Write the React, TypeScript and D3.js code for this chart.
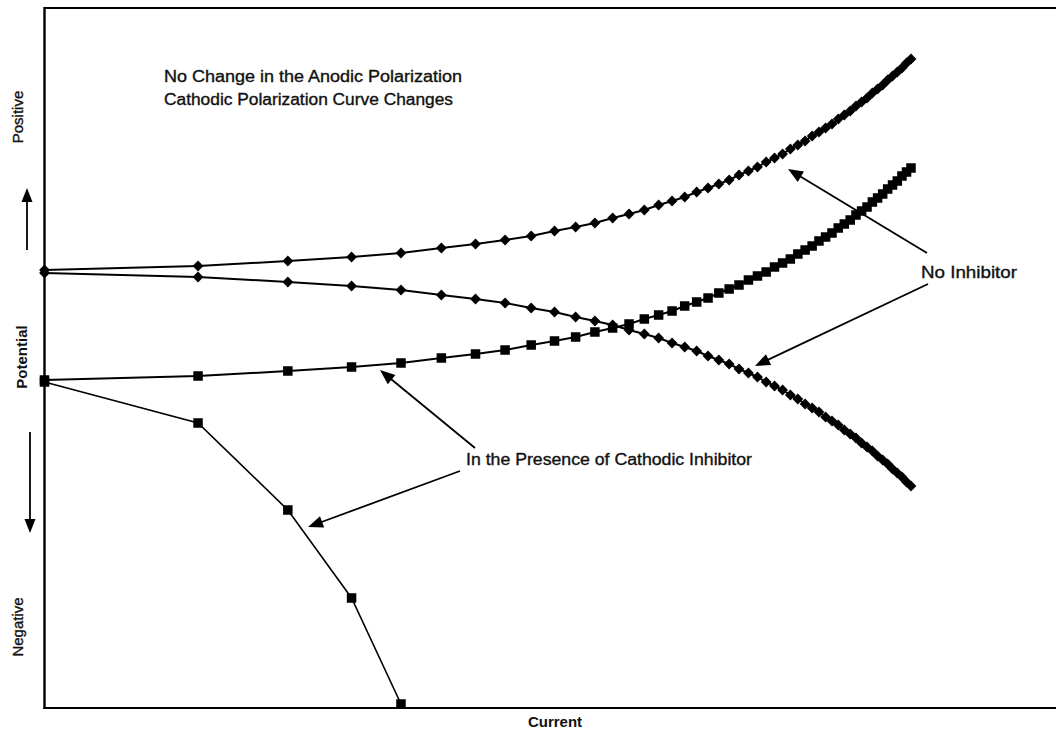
import React from "react";
import * as d3 from "d3";

// Current index (log-scaled axis)
const currentSteps: number[] = [
  1, 2, 3, 4, 5, 6, 7, 8, 9, 10, 11, 12, 13, 14, 15, 16, 17, 18, 19, 20, 21, 22, 23, 24, 25,
  26, 27, 28, 29, 30, 31, 32, 33, 34, 35, 36, 37, 38, 39, 40, 41, 42, 43, 44, 45, 46, 47, 48, 49, 50,
];

// No inhibitor – anodic branch (diamonds)
const anodicNoInhibitor: number[] = [
  88, 92, 97, 101, 105, 110, 114, 118, 122, 127, 131, 135, 140, 144, 148, 153, 157, 161, 166, 170,
  174, 178, 183, 187, 191, 196, 200, 204, 209, 213, 217, 222, 226, 230, 234, 239, 243, 247, 252, 256,
  260, 265, 269, 273, 278, 282, 286, 290, 295, 299,
];

// No inhibitor – cathodic branch (diamonds)
const cathodicNoInhibitor: number[] = [
  85, 81, 76, 72, 68, 63, 59, 55, 50, 46, 41, 37, 33, 28, 24, 20, 15, 11, 7, 2,
  -2, -6, -11, -15, -19, -24, -28, -32, -37, -41, -46, -50, -54, -59, -63, -67, -72, -76, -80, -85,
  -89, -93, -98, -102, -106, -111, -115, -119, -124, -128,
];

// With cathodic inhibitor – anodic branch (squares)
const anodicWithInhibitor: number[] = [
  -22, -18, -13, -9, -5, 0, 4, 8, 13, 17, 21, 26, 30, 34, 39, 43, 47, 52, 56, 60,
  65, 69, 73, 78, 82, 86, 91, 95, 99, 104, 108, 112, 117, 121, 125, 130, 134, 138, 143, 147,
  151, 156, 160, 164, 169, 173, 177, 182, 186, 190,
];

// With cathodic inhibitor – cathodic branch (squares)
const cathodicWithInhibitorSteps: number[] = [1, 2, 3, 4, 5];
const cathodicWithInhibitor: number[] = [-24, -65, -152, -240, -346];

const titleLines: string[] = [
  "No Change in the Anodic Polarization",
  "Cathodic Polarization Curve Changes",
];
const titleWidths: number[] = [298, 289];

const W = 1056;
const H = 732;
const left = 44.5;
const top = 8;
const bottom = 708;

const x = d3.scaleLog().domain([1, 50]).range([left, 911]);
const y = d3.scaleLinear().domain([-350, 350]).range([bottom, top]);

type Pt = [number, number];
const zip = (xs: number[], ys: number[]): Pt[] => xs.map((v, i) => [v, ys[i]]);

const line = d3
  .line<Pt>()
  .x((d) => x(d[0]))
  .y((d) => y(d[1]));

const FONT = "Liberation Sans, Arial, sans-serif";

function Arrow({ x1, y1, x2, y2, head = 15, half = 6 }: { x1: number; y1: number; x2: number; y2: number; head?: number; half?: number }) {
  const dx = x2 - x1;
  const dy = y2 - y1;
  const len = Math.hypot(dx, dy);
  const ux = dx / len;
  const uy = dy / len;
  const bx = x2 - ux * head;
  const by = y2 - uy * head;
  const px = -uy;
  const py = ux;
  const pts = `${x2},${y2} ${bx + px * half},${by + py * half} ${bx - px * half},${by - py * half}`;
  return (
    <g>
      <line x1={x1} y1={y1} x2={bx + ux * 2} y2={by + uy * 2} stroke="#000" strokeWidth={1.8} />
      <polygon points={pts} fill="#000" />
    </g>
  );
}

function Diamonds({ data }: { data: Pt[] }) {
  const s = 5.4;
  return (
    <g>
      {data.map((d, i) => {
        const cx = x(d[0]);
        const cy = y(d[1]);
        return (
          <polygon
            key={i}
            points={`${cx},${cy - s} ${cx + s},${cy} ${cx},${cy + s} ${cx - s},${cy}`}
            fill="#000"
          />
        );
      })}
    </g>
  );
}

function Squares({ data, size = 9 }: { data: Pt[]; size?: number }) {
  return (
    <g>
      {data.map((d, i) => (
        <rect key={i} x={x(d[0]) - size / 2} y={y(d[1]) - size / 2} width={size} height={size} fill="#000" />
      ))}
    </g>
  );
}

const textStyle = { fill: "#111", stroke: "#111", strokeWidth: 0.35 };

export default function App() {
  const sAnNo = zip(currentSteps, anodicNoInhibitor);
  const sCaNo = zip(currentSteps, cathodicNoInhibitor);
  const sAnIn = zip(currentSteps, anodicWithInhibitor);
  const sCaIn = zip(cathodicWithInhibitorSteps, cathodicWithInhibitor);

  return (
    <svg
      width={W}
      height={H}
      style={{ position: "fixed", left: 0, top: 0, background: "#fff" }}
      fontFamily={FONT}
    >
      <rect x={0} y={0} width={W} height={H} fill="#fff" />
      {/* frame */}
      <line x1={left} y1={top} x2={W} y2={top} stroke="#000" strokeWidth={2} />
      <line x1={left} y1={top - 1} x2={left} y2={bottom + 1} stroke="#000" strokeWidth={2.4} />
      <line x1={left - 1} y1={bottom} x2={W} y2={bottom} stroke="#000" strokeWidth={2} />

      {/* curves */}
      <path d={line(sAnNo) || ""} fill="none" stroke="#000" strokeWidth={2} />
      <path d={line(sCaNo) || ""} fill="none" stroke="#000" strokeWidth={2} />
      <path d={line(sAnIn) || ""} fill="none" stroke="#000" strokeWidth={2} />
      <path d={line(sCaIn) || ""} fill="none" stroke="#000" strokeWidth={1.6} />
      <Diamonds data={sAnNo} />
      <Diamonds data={sCaNo} />
      <Squares data={sAnIn} size={9.5} />
      <Squares data={sCaIn} size={9.5} />

      {/* title */}
      {titleLines.map((t, i) => (
        <text key={i} x={164} y={82 + i * 23} fontSize={16} textLength={titleWidths[i]} lengthAdjust="spacingAndGlyphs" {...textStyle}>
          {t}
        </text>
      ))}

      {/* annotations */}
      <text x={921} y={278} fontSize={16} textLength={96} lengthAdjust="spacingAndGlyphs" {...textStyle}>No Inhibitor</text>
      <Arrow x1={927} y1={253} x2={788} y2={169} />
      <Arrow x1={928} y1={284} x2={755} y2={366} />
      <text x={466} y={465} fontSize={16} textLength={286} lengthAdjust="spacingAndGlyphs" {...textStyle}>In the Presence of Cathodic Inhibitor</text>
      <Arrow x1={475} y1={448} x2={380} y2={370} />
      <Arrow x1={460} y1={471} x2={308} y2={527} />

      {/* y axis labels */}
      <text transform="translate(23,117) rotate(-90)" textAnchor="middle" fontSize={15} {...textStyle}>Positive</text>
      <text transform="translate(27,357) rotate(-90)" textAnchor="middle" fontSize={15} fontWeight="bold" fill="#111">Potential</text>
      <text transform="translate(23,627) rotate(-90)" textAnchor="middle" fontSize={15} {...textStyle}>Negative</text>
      <Arrow x1={27} y1={250} x2={27} y2={188} head={14} half={5.5} />
      <Arrow x1={30} y1={432} x2={30} y2={533} head={14} half={5.5} />

      {/* x axis label */}
      <text x={555} y={727} textAnchor="middle" fontSize={15} fontWeight="bold" fill="#111">Current</text>
    </svg>
  );
}
